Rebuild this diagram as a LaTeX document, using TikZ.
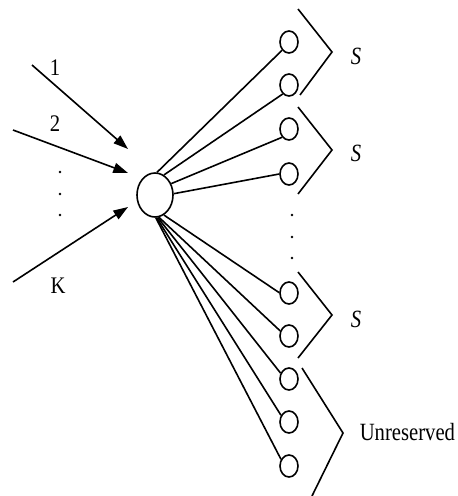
\documentclass[tikz,border=0pt]{standalone}
\usepackage{fontspec}
\setmainfont{Liberation Serif}
\usetikzlibrary{arrows.meta,shapes.geometric}
\begin{document}
\begin{tikzpicture}[x=0.75pt,y=-0.75pt,line width=1.2pt,
  hub/.style={draw,ellipse,minimum width=27pt,minimum height=33pt,inner sep=0pt},
  leaf/.style={draw,ellipse,minimum width=13.5pt,minimum height=16.5pt,inner sep=0pt},
  lbl/.style={font=\fontsize{15.5}{15.5}\selectfont,inner sep=0pt},
  arr/.style={-{Triangle[length=11pt,width=7.5pt]}},
  brk/.style={line join=miter}]
\useasboundingbox (0,0) rectangle (457,496);
\node[hub] (c) at (155,195) {};
\foreach \i/\y in {1/42,2/85,3/129,4/174,5/293,6/336,7/379,8/422,9/466}
  \node[leaf] (s\i) at (289,\y) {};
% incoming arrows
\coordinate (a1) at (32,65);
\coordinate (a2) at (13,130);
\coordinate (aK) at (13,282);
\coordinate (t1) at (128,149);
\coordinate (t2) at (128,173);
\coordinate (tK) at (128,207);
\draw[arr] (a1) -- (t1);
\draw[arr] (a2) -- (t2);
\draw[arr] (aK) -- (tK);
\node[lbl] (n1) at (55,68) {\scalebox{1}[1.15]{1}};
\node[lbl] (n2) at (55,124) {\scalebox{1}[1.15]{2}};
\node[lbl] (nK) at (58,286) {\scalebox{1}[1.15]{K}};
\foreach \y in {172,194,215} \fill (60,\y) circle (1pt);
\foreach \y in {215,237,258} \fill (292,\y) circle (1pt);
% fan
\draw (c.85) -- (s1.-130);
\draw (c.66) -- (s2.-125);
\draw (c.35) -- (s3.-130);
\draw (c.4) -- (s4.180);
\draw (c.-66) -- (s5.178);
\draw (c.-80) -- (s6.150);
\draw (c.-83) -- (s7.145);
\draw (c.-86) -- (s8.140);
\draw (c.-88) -- (s9.140);
% brackets
\draw[brk] (298,9) -- (332,52) -- (300,95);
\draw[brk] (298,107) -- (332,150) -- (298,194);
\draw[brk] (298,272) -- (332,315) -- (298,358);
\draw[brk] (302,368) -- (343,433) -- (312,496);
\node[lbl] (S1) at (356,56) {\scalebox{1}[1.2]{\textit{S}}};
\node[lbl] (S2) at (356,153) {\scalebox{1}[1.2]{\textit{S}}};
\node[lbl] (S3) at (356,319) {\scalebox{1}[1.2]{\textit{S}}};
\node[lbl,anchor=west] (U) at (359,432) {\scalebox{1}[1.2]{Unreserved}};
\end{tikzpicture}
\end{document}
